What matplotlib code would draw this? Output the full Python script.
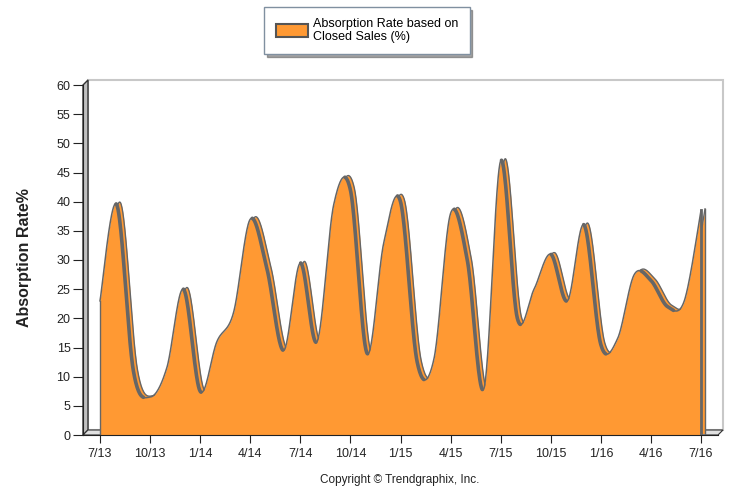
import numpy as np
import matplotlib
matplotlib.use("Agg")
import matplotlib.pyplot as plt
from matplotlib.patches import Polygon, Rectangle, Patch
from matplotlib.transforms import offset_copy

plt.rcParams['font.family'] = ['Liberation Sans', 'DejaVu Sans']

months = ['7/13', '8/13', '9/13', '10/13', '11/13', '12/13',
          '1/14', '2/14', '3/14', '4/14', '5/14', '6/14',
          '7/14', '8/14', '9/14', '10/14', '11/14', '12/14',
          '1/15', '2/15', '3/15', '4/15', '5/15', '6/15',
          '7/15', '8/15', '9/15', '10/15', '11/15', '12/15',
          '1/16', '2/16', '3/16', '4/16', '5/16', '6/16', '7/16']
rate = [23, 39.5, 11, 6.5, 11.5, 25,
        7.5, 16, 21, 37, 28.5, 14.5,
        29.5, 16, 39.5, 42, 14, 33,
        40, 12.5, 13, 38, 30, 8,
        47, 20, 25, 31, 23, 36,
        15.5, 16.5, 27.5, 26.5, 22, 23, 38.5]
tick_labels = months[::3]
series_label = "Absorption Rate based on\nClosed Sales (%)"

ORANGE = '#FF9933'
GREY = '#666666'

W, H = 730, 490


def px(x, y):
    # pixel (from top-left) -> figure fraction
    return x / W, 1 - y / H


def spline(y, tension=0.5, n=40):
    # cardinal spline through the points (GDI+ style control points)
    y = np.asarray(y, float)
    x = np.arange(len(y), dtype=float)
    pts = np.column_stack([x, y])
    ext = np.vstack([pts[0], pts, pts[-1]])
    t = np.linspace(0, 1, n, endpoint=False)[:, None]
    out = []
    for i in range(len(y) - 1):
        p0, p1, p2, p3 = ext[i], ext[i + 1], ext[i + 2], ext[i + 3]
        c1 = p1 + tension / 3 * (p2 - p0)
        c2 = p2 - tension / 3 * (p3 - p1)
        out.append((1 - t) ** 3 * p1 + 3 * (1 - t) ** 2 * t * c1 + 3 * (1 - t) * t ** 2 * c2 + t ** 3 * p2)
    out.append(pts[-1][None, :])
    out = np.vstack(out)
    return out[:, 0], out[:, 1]


fig = plt.figure(figsize=(W / 100, H / 100), dpi=100)

# back wall and left wall (3D look)
x0, y0 = px(88, 430)
x1, y1 = px(723, 80)
fig.patches.append(Rectangle((x0, y0), x1 - x0, y1 - y0, transform=fig.transFigure,
                             facecolor='white', edgecolor='#c8c8c8', lw=1.5, zorder=0))
fig.patches.append(Polygon([px(83, 435), px(83, 85), px(88, 80), px(88, 430)],
                           closed=True, transform=fig.transFigure,
                           facecolor='#c0c0c0', edgecolor='#333333', lw=1, zorder=1))
fig.patches.append(Polygon([px(83, 435), px(88, 430), px(723, 430), px(718, 435)],
                           closed=True, transform=fig.transFigure,
                           facecolor='#e0e0e0', edgecolor='#333333', lw=0.8, zorder=1))

ax = fig.add_axes([83 / W, 1 - 435 / H, (718 - 83) / W, (435 - 85) / H])
ax.set_zorder(3)
ax.set_facecolor('none')
per = (701 - 100) / 36
ax.set_xlim(-(100 - 83) / per, 36 + (718 - 701) / per)
ax.set_ylim(0, 60)

xs, ys = spline(rate)
back = offset_copy(ax.transData, fig=fig, x=4, y=1.5, units='dots')
ax.fill_between(xs, 0, ys, color=ORANGE, transform=back, zorder=2, lw=0)
ax.plot(xs, ys, color=GREY, lw=1.0, transform=back, zorder=2.5)
ax.plot([36, 36], [0, rate[-1]], color=GREY, lw=1.0, transform=back, zorder=2.5)
ax.fill_between(xs, 0, ys, color=ORANGE, zorder=3, lw=0)
ax.plot(xs, ys, color=GREY, lw=1.1, zorder=4)
# darker side of the ribbon on falling stretches
falling = ys.copy()
slope = np.gradient(ys)
falling[slope > -0.03] = np.nan
ax.plot(xs, falling, color=GREY, lw=2.6, zorder=4, solid_capstyle='round')
ax.plot([0, 0], [0, rate[0]], color=GREY, lw=1.0, zorder=4)
ax.plot([36, 36], [0, rate[-1]], color=GREY, lw=2.0, zorder=4)

for s in ['top', 'right']:
    ax.spines[s].set_visible(False)
ax.spines['left'].set_color('#222222')
ax.spines['bottom'].set_color('#222222')
ax.spines['bottom'].set_zorder(5)

ax.set_yticks(np.arange(0, 61, 5))
ax.set_xticks(np.arange(0, len(months), 3))
ax.set_xticklabels(tick_labels)
ax.tick_params(axis='y', direction='out', length=7, labelsize=9, colors='#222222', pad=2)
ax.tick_params(axis='x', direction='out', length=6, labelsize=9, colors='#222222', pad=3)

fig.text(*px(25, 258), "Absorption Rate%", rotation=90, fontsize=11.5, fontweight='bold',
         ha='center', va='center', color='#222222')
fig.text(*px(400, 480), "Copyright \u00a9 Trendgraphix, Inc.", fontsize=8.5,
         ha='center', va='center', color='#222222')

leg = fig.legend(handles=[Patch(facecolor=ORANGE, edgecolor='#555555', lw=1.5, label=series_label)],
                 loc='upper center', bbox_to_anchor=px(367, 7), fancybox=False, shadow=True,
                 fontsize=9, handlelength=2.6, handleheight=1.2, borderpad=0.9,
                 labelspacing=0, handletextpad=0.4, borderaxespad=0)
leg.get_frame().set_edgecolor('#8090a0')
for t in leg.get_texts():
    t.set_linespacing(1.05)

fig.savefig("out.png", dpi=100)
